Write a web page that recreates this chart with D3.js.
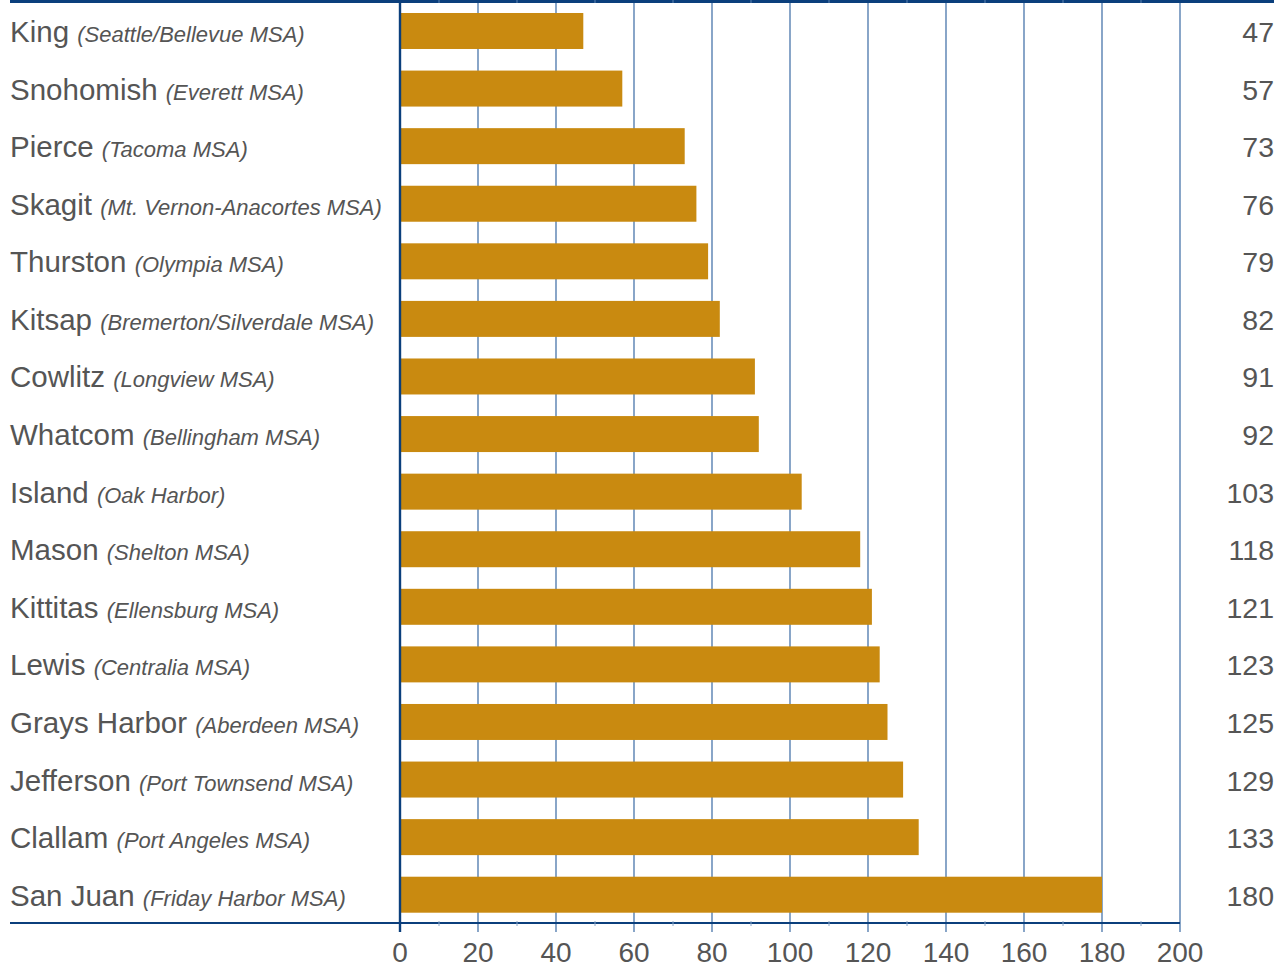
<!DOCTYPE html>
<html>
<head>
<meta charset="utf-8">
<script src="https://cdn.jsdelivr.net/npm/d3@7"></script>
<style>
  body { margin: 0; background: #fff; }
  svg { display: block; font-family: "Liberation Sans", Arial, sans-serif; }
</style>
</head>
<body>
<svg id="chart" width="1274" height="967"></svg>
<script>
// counties and their metro area, top to bottom
const counties = ["King", "Snohomish", "Pierce", "Skagit", "Thurston", "Kitsap", "Cowlitz", "Whatcom",
  "Island", "Mason", "Kittitas", "Lewis", "Grays Harbor", "Jefferson", "Clallam", "San Juan"];
const areas = ["Seattle/Bellevue MSA", "Everett MSA", "Tacoma MSA", "Mt. Vernon-Anacortes MSA", "Olympia MSA",
  "Bremerton/Silverdale MSA", "Longview MSA", "Bellingham MSA", "Oak Harbor", "Shelton MSA", "Ellensburg MSA",
  "Centralia MSA", "Aberdeen MSA", "Port Townsend MSA", "Port Angeles MSA", "Friday Harbor MSA"];
const values = [47, 57, 73, 76, 79, 82, 91, 92, 103, 118, 121, 123, 125, 129, 133, 180];
const xTicks = [0, 20, 40, 60, 80, 100, 120, 140, 160, 180, 200];
const minorTicks = [10, 30, 50, 70, 90, 110, 130, 150, 170, 190];

const navy = "#0b3f7c", grid = "#3a6aa3", barColor = "#c98a10", textColor = "#555";

const svg = d3.select("#chart");

const x = d3.scaleLinear().domain([0, 200]).range([400, 1180]);
const y = d3.scaleBand().domain(counties).range([2.2, 923.5])
  .paddingInner(0.375).paddingOuter(0.1875);

// vertical gridlines
svg.append("g").selectAll("line")
  .data(xTicks.slice(1))
  .join("line")
    .attr("x1", d => x(d)).attr("x2", d => x(d))
    .attr("y1", 0).attr("y2", 932)
    .attr("stroke", grid).attr("stroke-width", 1.2);

// bars
svg.append("g").selectAll("rect")
  .data(values)
  .join("rect")
    .attr("x", x(0))
    .attr("y", (d, i) => y(counties[i]))
    .attr("width", d => x(d) - x(0))
    .attr("height", y.bandwidth())
    .attr("fill", barColor);

// top rule and bottom axis line
svg.append("rect").attr("x", 10).attr("y", 0).attr("width", 1264).attr("height", 3).attr("fill", navy);
svg.append("line").attr("x1", 10).attr("x2", x(200)).attr("y1", 923).attr("y2", 923)
  .attr("stroke", navy).attr("stroke-width", 2.2);

// minor ticks, faint
svg.append("g").selectAll("line")
  .data(minorTicks)
  .join("line")
    .attr("x1", d => x(d)).attr("x2", d => x(d))
    .attr("y1", 921).attr("y2", 926)
    .attr("stroke", "#8aa6c8").attr("stroke-width", 1);
svg.append("g").selectAll("line")
  .data(minorTicks)
  .join("line")
    .attr("x1", d => x(d)).attr("x2", d => x(d))
    .attr("y1", 0).attr("y2", 3)
    .attr("stroke", "#5f84b2").attr("stroke-width", 1);

// value axis line
svg.append("line").attr("x1", x(0)).attr("x2", x(0)).attr("y1", 0).attr("y2", 932)
  .attr("stroke", navy).attr("stroke-width", 2.4);

// x tick labels
svg.append("g").selectAll("text")
  .data(xTicks)
  .join("text")
    .attr("x", d => x(d))
    .attr("y", 962)
    .attr("text-anchor", "middle")
    .attr("font-size", 28)
    .attr("fill", textColor)
    .text(d => d);

// category labels
const lab = svg.append("g").selectAll("text")
  .data(counties)
  .join("text")
    .attr("x", 10)
    .attr("y", d => y(d) + y.bandwidth() / 2 + 11)
    .attr("fill", textColor);
lab.append("tspan").attr("font-size", 29.5).text(d => d + " ");
lab.append("tspan").attr("font-size", 22).attr("font-style", "italic")
  .text((d, i) => "(" + areas[i] + ")");

// value labels on the right
svg.append("g").selectAll("text")
  .data(values)
  .join("text")
    .attr("x", 1274)
    .attr("y", (d, i) => y(counties[i]) + y.bandwidth() / 2 + 11)
    .attr("text-anchor", "end")
    .attr("font-size", 28.5)
    .attr("fill", textColor)
    .text(d => d);
</script>
</body>
</html>
